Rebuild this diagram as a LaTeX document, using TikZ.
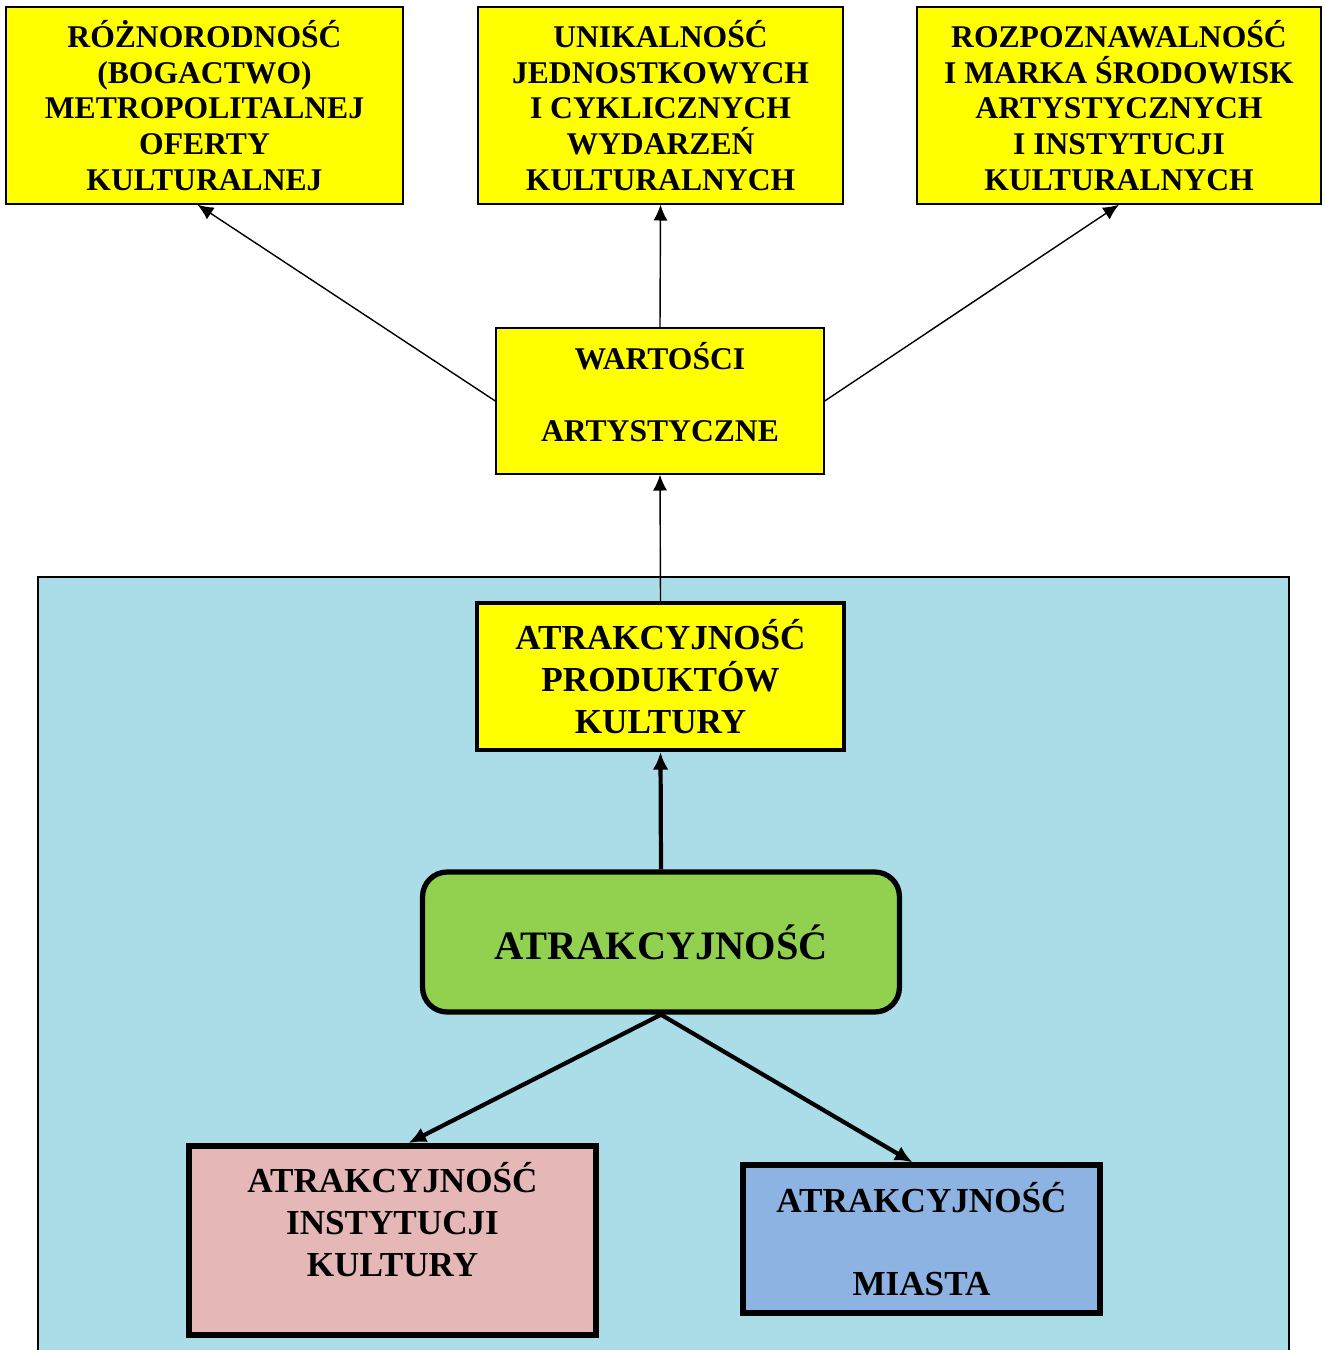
\documentclass[tikz,border=0pt]{standalone}
\usepackage{fontspec}
\setmainfont{Liberation Serif}
\usetikzlibrary{shapes,backgrounds,arrows.meta}

\definecolor{boxyellow}{RGB}{255,255,0}
\definecolor{boxgreen}{RGB}{146,208,80}
\definecolor{boxpink}{RGB}{229,184,183}
\definecolor{boxblue}{RGB}{141,179,226}
\definecolor{water}{RGB}{170,221,231}

\tikzset{
    valuebox/.style={draw, fill=boxyellow, line width=0.8pt, align=center,
        font=\fontsize{18}{20.4}\selectfont\bfseries},
    attrbox/.style={draw, line width=3pt, align=center,
        font=\fontsize{20}{23.8}\selectfont\bfseries},
    thinarrow/.style={-{Latex[length=9pt,width=8pt]}, line width=0.8pt},
    thickarrow/.style={-{Latex[length=10pt,width=9pt]}, line width=2.4pt}
}

\begin{document}
\begin{tikzpicture}[x=0.02cm, y=-0.02cm]
\useasboundingbox (0,0) rectangle (1325,1350);

% Background panel
\draw [fill=water, line width=0.8pt] (38,577) rectangle (1289,1360);

% Top row
\node [valuebox, minimum width=7.94cm, minimum height=3.94cm] (TL) at (204.5,105.5)
    {RÓŻNORODNOŚĆ\\(BOGACTWO)\\METROPOLITALNEJ\\OFERTY\\KULTURALNEJ};
\node [valuebox, minimum width=7.30cm, minimum height=3.94cm] (TM) at (660.5,105.5)
    {UNIKALNOŚĆ\\JEDNOSTKOWYCH\\I CYKLICZNYCH\\WYDARZEŃ\\KULTURALNYCH};
\node [valuebox, minimum width=8.08cm, minimum height=3.94cm] (TR) at (1119,105.5)
    {ROZPOZNAWALNOŚĆ\\I MARKA ŚRODOWISK\\ARTYSTYCZNYCH\\I INSTYTUCJI\\KULTURALNYCH};

% Middle
\node [valuebox, minimum width=6.56cm, minimum height=2.92cm] (W) at (660,401)
    {WARTOŚCI\\[20.4pt]ARTYSTYCZNE\\[-10pt]~};

% Inside the panel
\node [attrbox, fill=boxyellow, line width=2.4pt, minimum width=7.34cm, minimum height=2.94cm] (P) at (660.5,676.5)
    {ATRAKCYJNOŚĆ\\PRODUKTÓW\\KULTURY};
\node [attrbox, fill=boxgreen, rounded corners=14pt, minimum width=9.54cm, minimum height=2.80cm,
    font=\fontsize{23}{27}\selectfont\bfseries] (G) at (661,942)
    {ATRAKCYJNOŚĆ};
\node [attrbox, fill=boxpink, line width=3.4pt, minimum width=8.14cm, minimum height=3.78cm] (I) at (392.5,1240.5)
    {ATRAKCYJNOŚĆ\\INSTYTUCJI\\KULTURY\\~};
\node [attrbox, fill=boxblue, minimum width=7.14cm, minimum height=2.96cm] (M) at (921.5,1239)
    {ATRAKCYJNOŚĆ\\[23.8pt]MIASTA};

% Arrows
\draw [thinarrow] (W.west) -- ([xshift=-0.14cm]TL.south);
\draw [thinarrow] (W.north) -- (TM.south);
\draw [thinarrow] (W.east) -- (TR.south);
\draw [thinarrow] (P.north) -- (W.south);
\draw [thickarrow] (G.north) -- (P.south);
\draw [thickarrow] (G.south) -- ([xshift=0.32cm]I.north);
\draw [thickarrow] (G.south) -- ([xshift=-0.18cm]M.north);

\end{tikzpicture}
\end{document}
